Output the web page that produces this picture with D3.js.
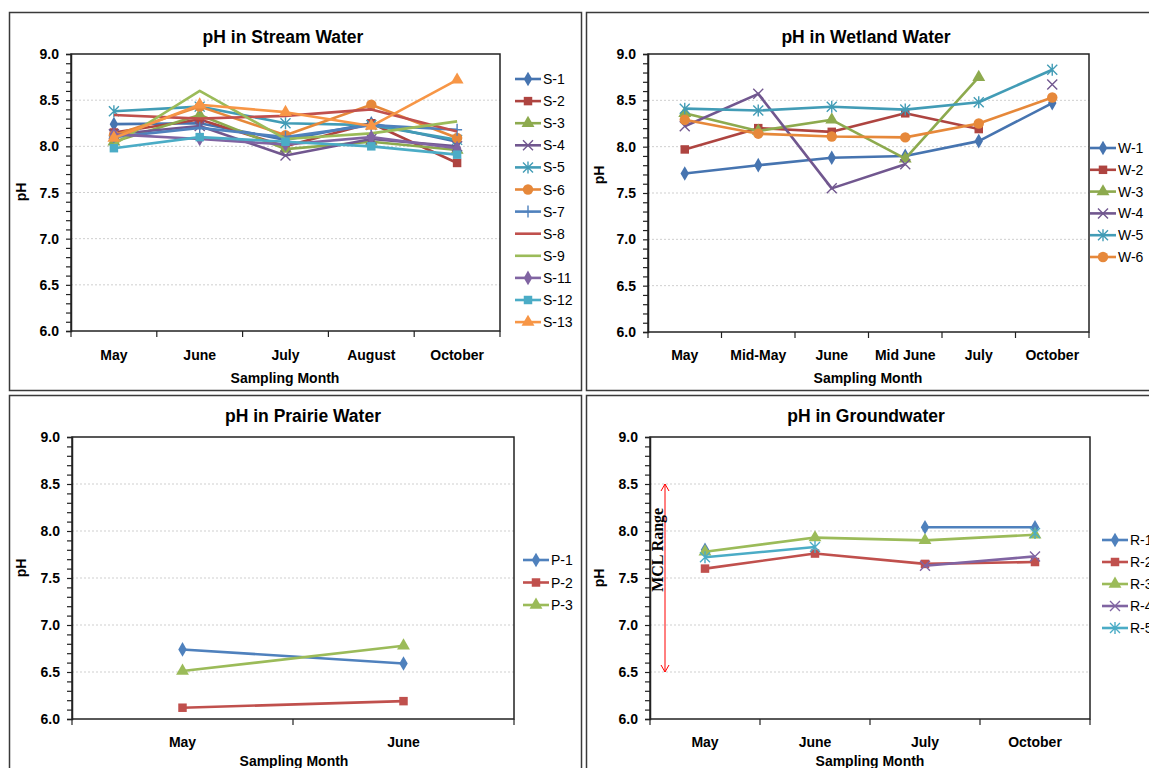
<!DOCTYPE html>
<html>
<head>
<meta charset="utf-8">
<script src="https://cdn.jsdelivr.net/npm/d3@7"></script>
<style>
  body { margin: 0; background: #fff; }
  svg { display: block; }
  text { font-family: "Liberation Sans", Arial, sans-serif; fill: #000; }
</style>
</head>
<body>
<svg id="chart" width="1149" height="768"></svg>
<script>
// ---- data ----
const yTicks = [6.0, 6.5, 7.0, 7.5, 8.0, 8.5, 9.0];

const streamMonths = ['May', 'June', 'July', 'August', 'October'];
const streamNames = ['S-1', 'S-2', 'S-3', 'S-4', 'S-5', 'S-6', 'S-7', 'S-8', 'S-9', 'S-11', 'S-12', 'S-13'];
const streamValues = [
  [8.24, 8.25, 8.07, 8.25, 8.05],
  [8.15, 8.29, 8.00, 8.25, 7.82],
  [8.05, 8.34, 7.97, 8.05, 7.96],
  [8.13, 8.22, 7.90, 8.08, 8.00],
  [8.38, 8.43, 8.25, 8.23, 8.07],
  [8.12, 8.43, 8.12, 8.45, 8.09],
  [8.10, 8.20, 8.10, 8.23, 8.18],
  [8.34, 8.30, 8.33, 8.40, 8.16],
  [8.02, 8.60, 8.08, 8.14, 8.27],
  [8.13, 8.08, 8.02, 8.10, 7.98],
  [7.98, 8.10, 8.05, 8.00, 7.91],
  [8.09, 8.45, 8.37, 8.22, 8.72]
];

const wetlandMonths = ['May', 'Mid-May', 'June', 'Mid June', 'July', 'October'];
const wetlandNames = ['W-1', 'W-2', 'W-3', 'W-4', 'W-5', 'W-6'];
const wetlandValues = [
  [7.71, 7.80, 7.88, 7.90, 8.06, 8.47],
  [7.97, 8.20, 8.16, 8.36, 8.19, null],
  [8.36, 8.17, 8.29, 7.87, 8.75, null],
  [8.22, 8.57, 7.55, 7.81, null, 8.67],
  [8.41, 8.39, 8.43, 8.40, 8.48, 8.83],
  [8.29, 8.14, 8.11, 8.10, 8.25, 8.53]
];

const prairieMonths = ['May', 'June'];
const prairieNames = ['P-1', 'P-2', 'P-3'];
const prairieValues = [
  [6.74, 6.59],
  [6.12, 6.19],
  [6.51, 6.78]
];

const groundMonths = ['May', 'June', 'July', 'October'];
const groundNames = ['R-1', 'R-2', 'R-3', 'R-4', 'R-5'];
const groundValues = [
  [7.80, null, 8.04, 8.04],
  [7.60, 7.76, 7.65, 7.67],
  [7.78, 7.93, 7.90, 7.96],
  [null, null, 7.63, 7.73],
  [7.72, 7.83, null, 7.98]
];
const mclRange = [6.5, 8.5];

// ---- styles ----
const firstColors = ['#4674B0', '#AE4440', '#8DAA4E', '#71578F', '#429CB6', '#E6883A'];
const laterColors = ['#4F81BD', '#C0504D', '#9BBB59', '#8064A2', '#4BACC6', '#F79646'];
const streamColors = firstColors.concat(laterColors);
const streamMarkers = ['diamond', 'square', 'triangle', 'x', 'asterisk', 'circle', 'plus', 'none', 'none', 'diamond', 'square', 'triangle'];
const sixMarkers = ['diamond', 'square', 'triangle', 'x', 'asterisk', 'circle'];

const svg = d3.select('#chart');

// panel borders
[[9.5, 12.5, 572, 378], [586.5, 12.5, 600, 378], [9.5, 395.5, 572, 400], [586.5, 395.5, 600, 400]]
  .forEach(b => svg.append('rect')
    .attr('x', b[0]).attr('y', b[1]).attr('width', b[2]).attr('height', b[3])
    .attr('fill', 'none').attr('stroke', '#3a3a3a').attr('stroke-width', 1.5));

function drawMarker(g, type, color, x, y) {
  if (type === 'none') return;
  if (type === 'x' || type === 'asterisk' || type === 'plus') {
    let s = 5, d = '';
    if (type !== 'plus') d += `M${x - s},${y - s}L${x + s},${y + s}M${x - s},${y + s}L${x + s},${y - s}`;
    if (type === 'asterisk') d += `M${x},${y - s - 1}L${x},${y + s + 1}`;
    if (type === 'plus') d += `M${x - s},${y}L${x + s},${y}M${x},${y - s - 1}L${x},${y + s + 1}`;
    g.append('path').attr('d', d).attr('stroke', color).attr('stroke-width', 1.4).attr('fill', 'none');
    return;
  }
  const sym = { diamond: d3.symbolDiamond, square: d3.symbolSquare, triangle: d3.symbolTriangle, circle: d3.symbolCircle }[type];
  const size = { diamond: 62, square: 72, triangle: 72, circle: 85 }[type];
  g.append('path')
    .attr('d', d3.symbol().type(sym).size(size)())
    .attr('transform', `translate(${x},${y})`)
    .attr('fill', color);
}

function drawPanel(cfg) {
  const g = svg.append('g');
  const p = cfg.plot;
  const x = d3.scaleBand().domain(cfg.months).range([p.x, p.x + p.w]);
  const y = d3.scaleLinear().domain([6, 9]).range([p.y + p.h, p.y]);

  // grid
  g.selectAll(null).data(yTicks.slice(1, -1)).enter().append('line')
    .attr('x1', p.x).attr('x2', p.x + p.w)
    .attr('y1', d => y(d)).attr('y2', d => y(d))
    .attr('stroke', '#cfcfcf').attr('stroke-width', 1).attr('stroke-dasharray', '2,2');

  // plot frame
  g.append('rect').attr('x', p.x).attr('y', p.y).attr('width', p.w).attr('height', p.h)
    .attr('fill', 'none').attr('stroke', '#222').attr('stroke-width', 1.5);

  // y axis with minor ticks
  const yAxis = g.append('g').attr('transform', `translate(${p.x},0)`)
    .call(d3.axisLeft(y).tickValues(d3.range(60, 91).map(v => v / 10)).tickSize(5).tickFormat(''));
  yAxis.select('.domain').attr('stroke', '#222').attr('stroke-width', 1.5);
  yAxis.selectAll('.tick line').attr('stroke', '#222').attr('stroke-width', 1.2);
  g.selectAll(null).data(yTicks).enter().append('text')
    .attr('x', p.x - 12).attr('y', d => y(d) + 5)
    .attr('text-anchor', 'end').attr('font-size', 14).attr('font-weight', 'bold')
    .text(d => d.toFixed(1));

  // x axis: ticks at category boundaries
  const bounds = cfg.months.map(m => x(m)).concat([p.x + p.w]);
  g.selectAll(null).data(bounds).enter().append('line')
    .attr('x1', d => d).attr('x2', d => d)
    .attr('y1', p.y + p.h).attr('y2', p.y + p.h + 6)
    .attr('stroke', '#222').attr('stroke-width', 1.2);
  g.selectAll(null).data(cfg.months).enter().append('text')
    .attr('x', d => x(d) + x.bandwidth() / 2).attr('y', cfg.tickY)
    .attr('text-anchor', 'middle').attr('font-size', 14).attr('font-weight', 'bold')
    .text(d => d);

  // labels
  g.append('text').attr('x', cfg.title[0]).attr('y', cfg.title[1])
    .attr('text-anchor', 'middle').attr('font-size', 17.5).attr('font-weight', 'bold').text(cfg.titleText);
  g.append('text').attr('x', cfg.xlabel[0]).attr('y', cfg.xlabel[1])
    .attr('text-anchor', 'middle').attr('font-size', 14).attr('font-weight', 'bold').text('Sampling Month');
  g.append('text').attr('transform', `translate(${cfg.ylabel[0]},${cfg.ylabel[1]}) rotate(-90)`)
    .attr('text-anchor', 'middle').attr('font-size', 14).attr('font-weight', 'bold').text('pH');

  // series
  const line = d3.line()
    .defined(d => d.v != null)
    .x(d => x(d.m) + x.bandwidth() / 2)
    .y(d => y(d.v));
  cfg.values.forEach((vals, i) => {
    const pts = vals.map((v, j) => ({ m: cfg.months[j], v }));
    g.append('path').datum(pts).attr('d', line)
      .attr('fill', 'none').attr('stroke', cfg.colors[i]).attr('stroke-width', 2.6)
      .attr('stroke-linejoin', 'round');
    pts.filter(d => d.v != null).forEach(d =>
      drawMarker(g, cfg.markers[i], cfg.colors[i], x(d.m) + x.bandwidth() / 2, y(d.v)));
  });

  // legend
  const lg = cfg.legend;
  cfg.names.forEach((n, i) => {
    const ly = lg.y + i * lg.dy;
    g.append('line').attr('x1', lg.x).attr('x2', lg.x + 26).attr('y1', ly).attr('y2', ly)
      .attr('stroke', cfg.colors[i]).attr('stroke-width', 2.6);
    drawMarker(g, cfg.markers[i], cfg.colors[i], lg.x + 13, ly);
    g.append('text').attr('x', lg.x + 28).attr('y', ly + 5).attr('font-size', 14).text(n);
  });
  return { g, x, y };
}

drawPanel({
  titleText: 'pH in Stream Water', title: [283, 43], xlabel: [285, 383], ylabel: [26, 192], tickY: 360,
  plot: { x: 71, y: 54, w: 429, h: 277 },
  months: streamMonths, names: streamNames, values: streamValues,
  colors: streamColors, markers: streamMarkers,
  legend: { x: 515, y: 79, dy: 22.1 }
});

drawPanel({
  titleText: 'pH in Wetland Water', title: [866, 43], xlabel: [868, 383], ylabel: [604, 175], tickY: 360,
  plot: { x: 648, y: 54, w: 441, h: 278 },
  months: wetlandMonths, names: wetlandNames, values: wetlandValues,
  colors: firstColors, markers: sixMarkers,
  legend: { x: 1090, y: 148, dy: 21.8 }
});

drawPanel({
  titleText: 'pH in Prairie Water', title: [303, 422], xlabel: [294, 766], ylabel: [26, 568], tickY: 747,
  plot: { x: 72, y: 437, w: 442, h: 282 },
  months: prairieMonths, names: prairieNames, values: prairieValues,
  colors: laterColors, markers: sixMarkers,
  legend: { x: 523, y: 560, dy: 22.5 }
});

const gw = drawPanel({
  titleText: 'pH in Groundwater', title: [866, 422], xlabel: [870, 766], ylabel: [604, 578], tickY: 747,
  plot: { x: 650, y: 437, w: 440, h: 282 },
  months: groundMonths, names: groundNames, values: groundValues,
  colors: laterColors, markers: sixMarkers,
  legend: { x: 1102, y: 540, dy: 22 }
});

// MCL range double arrow
const ax = 665, y1 = gw.y(mclRange[1]), y0 = gw.y(mclRange[0]);
gw.g.append('line').attr('x1', ax).attr('x2', ax).attr('y1', y1).attr('y2', y0)
  .attr('stroke', '#ff0000').attr('stroke-width', 1);
gw.g.append('path').attr('d', `M${ax - 4},${y1 + 7}L${ax},${y1}L${ax + 4},${y1 + 7}M${ax - 4},${y0 - 7}L${ax},${y0}L${ax + 4},${y0 - 7}`)
  .attr('stroke', '#ff0000').attr('fill', 'none').attr('stroke-width', 1);
gw.g.append('text').attr('transform', `translate(${ax - 2},${gw.y(7.8)}) rotate(-90)`)
  .attr('text-anchor', 'middle').attr('font-size', 16).attr('font-weight', 'bold')
  .style('font-family', '"Liberation Serif", "Times New Roman", serif').text('MCL Range');
</script>
</body>
</html>
